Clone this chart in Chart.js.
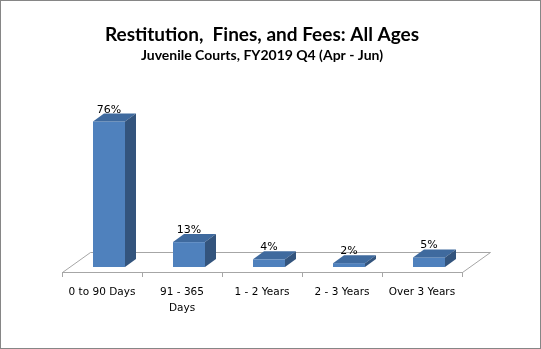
<!DOCTYPE html>
<html>
<head>
<meta charset="utf-8">
<script src="https://cdn.jsdelivr.net/npm/chart.js@4.4.1/dist/chart.umd.min.js"></script>
<style>
  html, body { margin: 0; padding: 0; background: #fff; }
  #wrap { width: 541px; height: 349px; }
</style>
</head>
<body>
<div id="wrap"><canvas id="chartAges" width="541" height="349"></canvas></div>
<script>
'use strict'

// data
const categories = ['0 to 90 Days', ['91 - 365', 'Days'], '1 - 2 Years', '2 - 3 Years', 'Over 3 Years'];
const shares = [76, 13, 4, 2, 5];
const titleText = 'Restitution,  Fines, and Fees: All Ages';
const subtitleText = 'Juvenile Courts, FY2019 Q4 (Apr - Jun)';

const colors = {
	front: '#4F81BD',
	top: '#3F6A9E',
	side: '#33547D',
	floor: '#A6A6A6',
	frame: '#868686',
	text: '#000000',
};

// 3d look: floor depth and where the bars sit on it
const floorDepth = { dx: 28, dy: -20 };
const barShift = { dx: 7, dy: -5 };
const barDepth = { dx: 11, dy: -8 };

const frame3d = {
	id: 'frame3d',
	beforeDraw(chart) {
		const ctx = chart.ctx;
		ctx.save();
		ctx.strokeStyle = colors.frame;
		ctx.lineWidth = 1;
		ctx.strokeRect(0.5, 0.5, chart.width - 1, chart.height - 1);
		ctx.restore();
	},
	beforeDatasetsDraw(chart) {
		const { ctx, chartArea: { left, right, bottom } } = chart;
		// floor
		ctx.save();
		ctx.strokeStyle = colors.floor;
		ctx.lineWidth = 1;
		ctx.beginPath();
		ctx.moveTo(left + 0.5, bottom + 0.5);
		ctx.lineTo(left + floorDepth.dx + 0.5, bottom + floorDepth.dy + 0.5);
		ctx.lineTo(right + floorDepth.dx + 0.5, bottom + floorDepth.dy + 0.5);
		ctx.lineTo(right + 0.5, bottom + 0.5);
		ctx.stroke();
		ctx.restore();

		ctx.save();
		ctx.translate(barShift.dx, barShift.dy);
	},
	afterDatasetsDraw(chart) {
		const ctx = chart.ctx;
		const meta = chart.getDatasetMeta(0);
		meta.data.forEach((bar, i) => {
			const { x, y, base, width } = bar.getProps(['x', 'y', 'base', 'width'], true);
			const l = x - width / 2, r = x + width / 2;
			// top face
			ctx.fillStyle = colors.top;
			ctx.beginPath();
			ctx.moveTo(l, y);
			ctx.lineTo(l + barDepth.dx, y + barDepth.dy);
			ctx.lineTo(r + barDepth.dx, y + barDepth.dy);
			ctx.lineTo(r, y);
			ctx.closePath();
			ctx.fill();
			// side face
			ctx.fillStyle = colors.side;
			ctx.beginPath();
			ctx.moveTo(r, y);
			ctx.lineTo(r + barDepth.dx, y + barDepth.dy);
			ctx.lineTo(r + barDepth.dx, base + barDepth.dy);
			ctx.lineTo(r, base);
			ctx.closePath();
			ctx.fill();
			// value label
			ctx.fillStyle = colors.text;
			ctx.font = '11px "DejaVu Sans"';
			ctx.textAlign = 'center';
			ctx.textBaseline = 'alphabetic';
			ctx.fillText(shares[i] + '%', x, y + barDepth.dy - 1);
		});
		ctx.restore();
	},
};

new Chart(document.getElementById('chartAges'), {
	type: 'bar',
	data: {
		labels: categories,
		datasets: [{
			data: shares,
			backgroundColor: colors.front,
			borderWidth: 0,
			barPercentage: 0.4,
			categoryPercentage: 1,
			clip: false,
		}],
	},
	options: {
		responsive: false,
		animation: false,
		events: [],
		layout: {
			padding: { left: 62, right: 79, top: 0, bottom: 0 },
		},
		plugins: {
			legend: { display: false },
			tooltip: { enabled: false },
			title: {
				display: true,
				text: titleText,
				color: colors.text,
				font: { family: 'Lato', size: 19, weight: 'bold', lineHeight: 1.2 },
				padding: { top: 23, bottom: 1 },
			},
			subtitle: {
				display: true,
				text: subtitleText,
				color: colors.text,
				font: { family: 'Lato', size: 14, weight: 'bold', lineHeight: 1.2 },
				padding: { top: 0, bottom: 17 },
			},
		},
		scales: {
			y: {
				display: false,
				min: 0,
				max: 100,
			},
			x: {
				afterFit(scale) {
					scale.height = 77;
				},
				border: { color: colors.floor },
				grid: {
					drawOnChartArea: false,
					tickLength: 5,
					color: colors.floor,
				},
				ticks: {
					color: colors.text,
					padding: 7,
					maxRotation: 0,
					autoSkip: false,
					font: { family: 'DejaVu Sans', size: 10.5, lineHeight: 1.52 },
				},
			},
		},
	},
	plugins: [frame3d],
});
</script>
</body>
</html>
